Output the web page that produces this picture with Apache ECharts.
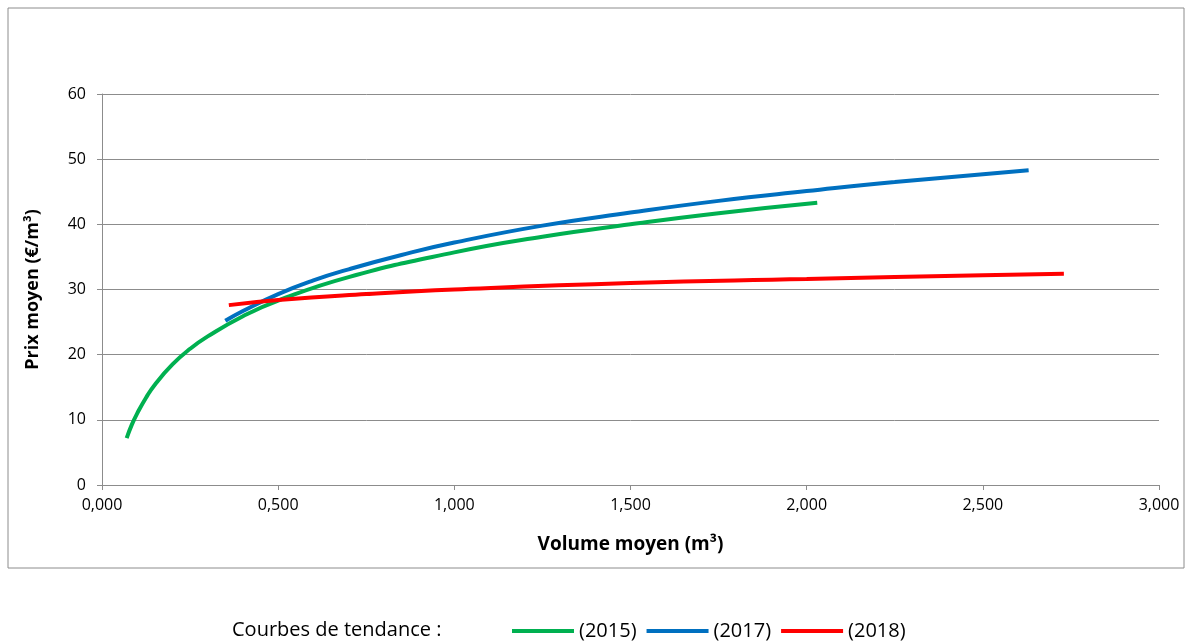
<!DOCTYPE html>
<html><head><meta charset="utf-8">
<script src="https://cdn.jsdelivr.net/npm/echarts@6/dist/echarts.min.js"></script>
<style>html,body{margin:0;background:#fff}#c{width:1193px;height:641px}</style>
</head><body><div id="c"></div>
<script>
// courbes de tendance
var vol2015 = [0.07, 0.085, 0.1, 0.125, 0.15, 0.2, 0.25, 0.3, 0.4, 0.5, 0.7, 1.0, 1.25, 1.5, 1.75, 2.03];
var prix2015 = [7.2, 9.3, 11, 13.4, 15.4, 18.5, 20.9, 22.8, 25.9, 28.3, 31.9, 35.7, 38.1, 40.0, 41.7, 43.3];
var vol2017 = [0.35, 0.4, 0.5, 0.6, 0.7, 0.85, 1.0, 1.25, 1.5, 1.75, 2.0, 2.25, 2.63];
var prix2017 = [25.2, 26.7, 29.3, 31.4, 33.1, 35.3, 37.2, 39.8, 41.8, 43.6, 45.1, 46.5, 48.3];
var vol2018 = [0.36, 0.5, 0.75, 1.0, 1.5, 2.0, 2.5, 2.73];
var prix2018 = [27.6, 28.4, 29.3, 30.0, 31.0, 31.6, 32.2, 32.4];

function pts(x, y) {
    var r = [];
    for (var i = 0; i < x.length; i++) r.push([x[i], y[i]]);
    return r;
}

var myChart = echarts.init(document.getElementById('c'));
var font = 'Open Sans';
var option = {
    animation: false,
    textStyle: { fontFamily: font },
    grid: { left: 102, right: 34, top: 94, bottom: 156 },
    graphic: [{
        type: 'rect', shape: { x: 8, y: 8, width: 1176, height: 560 },
        style: { fill: 'none', stroke: '#8c8c8c', lineWidth: 1 }
    }, {
        type: 'text', left: 232, top: 620,
        style: { text: 'Courbes de tendance :', fontSize: 20, fontFamily: font, fill: '#000' }
    }],
    legend: {
        left: 507, top: 616, itemWidth: 62, itemHeight: 4, itemGap: 10,
        icon: 'rect',
        textStyle: { fontSize: 20, color: '#000' },
        data: ['(2015)', '(2017)', '(2018)']
    },
    xAxis: {
        type: 'value', min: 0, max: 3, interval: 0.5,
        name: 'Volume moyen (m³)', nameLocation: 'middle', nameGap: 50,
        nameTextStyle: { fontSize: 19, fontWeight: 'bold', color: '#000' },
        axisLine: { lineStyle: { color: '#8c8c8c' } },
        axisTick: { show: true, lineStyle: { color: '#8c8c8c' } },
        axisLabel: { fontSize: 16, color: '#000', margin: 12, formatter: function (v) { return v.toFixed(3).replace('.', ','); } },
        splitLine: { show: false }
    },
    yAxis: {
        type: 'value', min: 0, max: 60, interval: 10,
        name: 'Prix moyen (€/m³)', nameLocation: 'middle', nameGap: 60, nameRotate: 90,
        nameTextStyle: { fontSize: 18, fontWeight: 'bold', color: '#000' },
        axisLine: { show: true, lineStyle: { color: '#8c8c8c' } },
        axisTick: { show: true, lineStyle: { color: '#8c8c8c' } },
        axisLabel: { fontSize: 16, color: '#000', margin: 16 },
        splitLine: { lineStyle: { color: '#8c8c8c' } }
    },
    series: [{
        name: '(2015)', type: 'line', smooth: true, showSymbol: false,
        itemStyle: { color: '#00b050' }, lineStyle: { width: 4 }, data: pts(vol2015, prix2015)
    }, {
        name: '(2017)', type: 'line', smooth: true, showSymbol: false,
        itemStyle: { color: '#0070c0' }, lineStyle: { width: 4 }, data: pts(vol2017, prix2017)
    }, {
        name: '(2018)', type: 'line', smooth: true, showSymbol: false,
        itemStyle: { color: '#ff0000' }, lineStyle: { width: 4 }, data: pts(vol2018, prix2018)
    }]
};
myChart.setOption(option);
</script></body></html>
